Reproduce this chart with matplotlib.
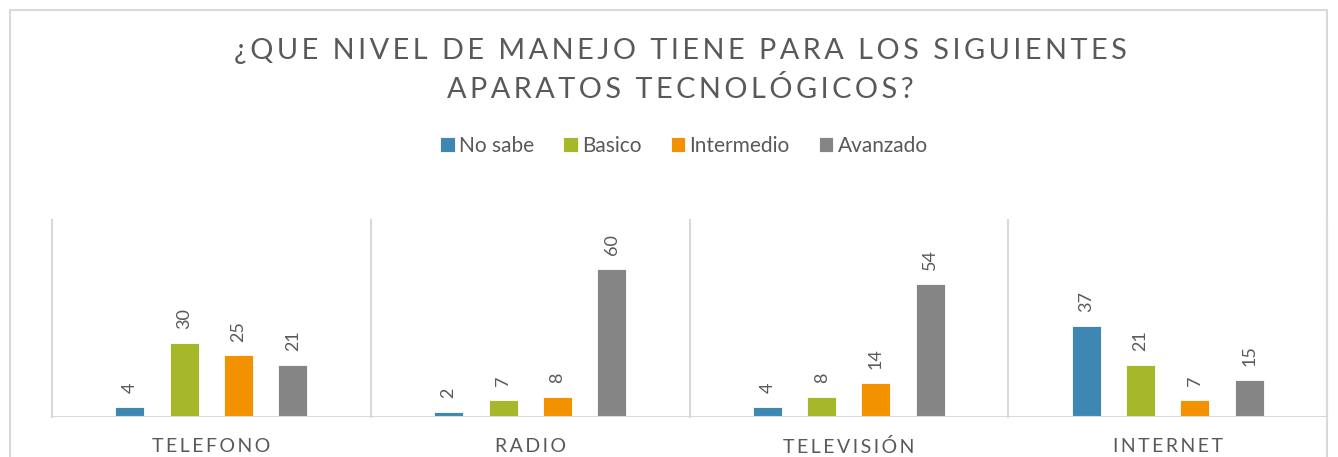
import numpy as np
import matplotlib.pyplot as plt
from matplotlib.patches import Rectangle

categories = ["TELEFONO", "RADIO", "TELEVISIÓN", "INTERNET"]
series = ["No sabe", "Basico", "Intermedio", "Avanzado"]
no_sabe = [4, 2, 4, 37]
basico = [30, 7, 8, 21]
intermedio = [25, 8, 14, 7]
avanzado = [21, 60, 54, 15]

colors = ["#3F87B3", "#A5B82A", "#F39200", "#858585"]
text_gray = "#595959"
line_gray = "#D9D9D9"

plt.rcParams["font.family"] = ["Lato", "DejaVu Sans"]


def spaced(s, sep="\u200a"):
    return sep.join(s)


fig = plt.figure(figsize=(13.38, 4.57), dpi=100)
ax = fig.add_axes([52 / 1338, 1 - 417 / 457, (1327 - 52) / 1338, (417 - 220) / 457])

x = np.arange(len(categories))
width = 0.091
offsets = [-0.256, -0.085, 0.085, 0.256]
for vals, name, col, off in zip([no_sabe, basico, intermedio, avanzado], series, colors, offsets):
    bars = ax.bar(x + off, vals, width, color=col, label=name, edgecolor="white", linewidth=0.6)
    for b, v in zip(bars, vals):
        ax.annotate(str(v), (b.get_x() + b.get_width() / 2, v), xytext=(0, 10),
                    textcoords="offset points", rotation=90, ha="center", va="bottom",
                    fontsize=13, color=text_gray)

ax.set_xlim(-0.5, len(categories) - 0.5)
ax.set_ylim(0, 80)
ax.set_yticks([])
ax.set_xticks([])
for s in ax.spines.values():
    s.set_visible(False)
for i in range(len(categories) + 1):
    ax.axvline(i - 0.5, color=line_gray, lw=1.5, clip_on=False)
ax.axhline(0, color=line_gray, lw=1.5)

for i, c in enumerate(categories):
    ax.text(i, -8.5, spaced(c, "\u2009"), ha="center", va="top", fontsize=14, color=text_gray)

title_x = 680 / 1338
fig.text(title_x, 1 - 51 / 457, spaced("¿QUE NIVEL DE MANEJO TIENE PARA LOS SIGUIENTES", "\u200a\u200a"),
         ha="center", va="center", fontsize=20.8, color=text_gray)
fig.text(title_x, 1 - 89 / 457, spaced("APARATOS TECNOLÓGICOS?", "\u200a\u200a"), ha="center",
         va="center", fontsize=20.8, color=text_gray)

fig.legend(loc="center", bbox_to_anchor=(684 / 1338, 1 - 146 / 457), ncol=4, frameon=False,
           fontsize=15, labelcolor=text_gray, handlelength=0.7, handleheight=0.7,
           handletextpad=0.2, columnspacing=1.4)

fig.patches.append(Rectangle((10 / 1338, -0.05), 1317 / 1338, 1 - 10 / 457 + 0.05,
                             transform=fig.transFigure, fill=False, edgecolor=line_gray, lw=1.5))

fig.savefig("out.png", dpi=100)
